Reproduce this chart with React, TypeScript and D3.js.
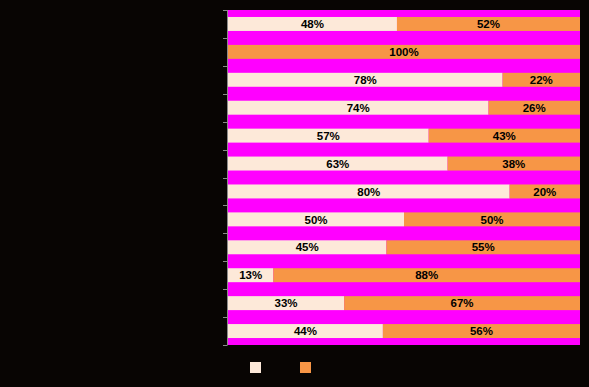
import React, { useEffect, useRef } from "react";
import * as d3 from "d3";

const W = 589;
const H = 387;
const margin = { top: 10, right: 9, bottom: 42, left: 228 };

// 12 rows, top to bottom
const categories = ["1", "2", "3", "4", "5", "6", "7", "8", "9", "10", "11", "12"];
const seriesA = [48, 0, 78, 74, 57, 63, 80, 50, 45, 13, 33, 44];
const seriesB = [52, 100, 22, 26, 43, 38, 20, 50, 55, 88, 67, 56];
const seriesColors = ["#fde9d9", "#f79646"];

const App = () => {
  const svgRef = useRef<SVGSVGElement>(null);

  useEffect(() => {
    document.body.style.margin = "0";
    document.body.style.background = "#080503";

    const svg = d3.select(svgRef.current);
    svg.selectAll("*").remove();

    const rows = categories.map((c, i) => ({ cat: c, a: seriesA[i], b: seriesB[i] }));
    const stack = d3.stack<any>().keys(["a", "b"]).offset(d3.stackOffsetExpand);
    const layers = stack(rows);

    const x = d3.scaleLinear().domain([0, 1]).range([margin.left, W - margin.right]);
    const y = d3
      .scaleBand()
      .domain(categories)
      .range([margin.top, H - margin.bottom])
      .paddingInner(0.5)
      .paddingOuter(0.25);

    svg.append("rect").attr("width", W).attr("height", H).attr("fill", "#080503");

    // plot background
    svg
      .append("rect")
      .attr("x", x(0))
      .attr("y", margin.top)
      .attr("width", x(1) - x(0))
      .attr("height", H - margin.bottom - margin.top)
      .attr("fill", "#ff00ff");

    const g = svg.append("g");
    layers.forEach((layer, li) => {
      g.append("g")
        .selectAll("rect")
        .data(layer)
        .enter()
        .append("rect")
        .attr("x", (d) => x(d[0]))
        .attr("width", (d) => x(d[1]) - x(d[0]))
        .attr("y", (d) => y(d.data.cat)!)
        .attr("height", y.bandwidth())
        .attr("fill", seriesColors[li]);

      g.append("g")
        .selectAll("text")
        .data(layer.filter((d) => d[1] - d[0] > 0))
        .enter()
        .append("text")
        .attr("x", (d) => (x(d[0]) + x(d[1])) / 2)
        .attr("y", (d) => y(d.data.cat)! + y.bandwidth() / 2)
        .attr("dy", "0.36em")
        .attr("text-anchor", "middle")
        .attr("font-family", "'Liberation Sans', Arial, sans-serif")
        .attr("font-weight", "bold")
        .attr("font-size", "11.5px")
        .attr("fill", "#000")
        .text((d) => `${li === 0 ? d.data.a : d.data.b}%`);
    });

    // y axis: line + ticks at band edges
    const n = categories.length;
    const edges = d3.range(n + 1).map((i) => margin.top + (i * (H - margin.bottom - margin.top)) / n);
    const axis = svg.append("g").attr("stroke", "#8a8a8a").attr("stroke-width", 1);
    axis
      .append("line")
      .attr("x1", margin.left - 0.5)
      .attr("x2", margin.left - 0.5)
      .attr("y1", margin.top)
      .attr("y2", H - margin.bottom);
    axis
      .selectAll(".tick")
      .data(edges)
      .enter()
      .append("line")
      .attr("x1", margin.left - 5)
      .attr("x2", margin.left - 0.5)
      .attr("y1", (d) => Math.round(d) + 0.5)
      .attr("y2", (d) => Math.round(d) + 0.5);

    // legend
    const legend = svg.append("g");
    seriesColors.forEach((c, i) => {
      legend
        .append("rect")
        .attr("x", 250 + i * 50)
        .attr("y", 362)
        .attr("width", 11)
        .attr("height", 11)
        .attr("fill", c);
    });
  }, []);

  return <svg ref={svgRef} width={W} height={H} style={{ display: "block" }} />;
};

export default App;
